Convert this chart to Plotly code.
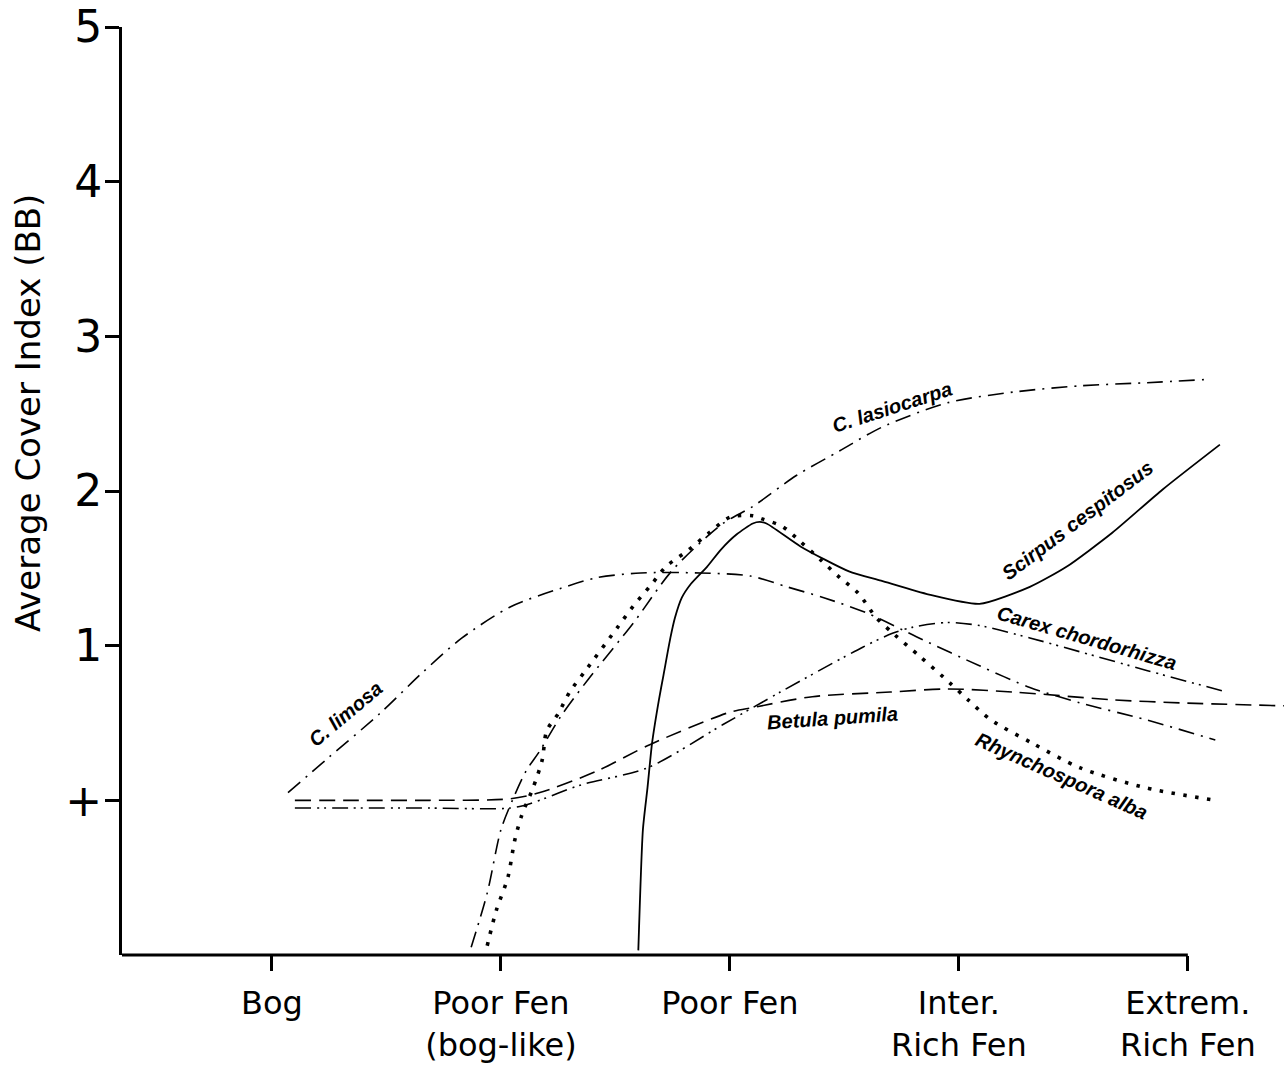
import plotly.graph_objects as go

# Peatland gradient positions (x) and tick labels
stage_pos = [0, 1, 2, 3, 4]
stage_labels = ["Bog", "Poor Fen<br>(bog-like)", "Poor Fen", "Inter.<br>Rich Fen", "Extrem.<br>Rich Fen"]

# Cover index axis: "+" marks presence with negligible cover
cover_ticks = [0, 1, 2, 3, 4, 5]
cover_labels = ["+", "1", "2", "3", "4", "5"]

# Species response curves (stage position, average cover index)
limosa_x = [0.07, 0.25, 0.47, 0.66, 0.83, 1.04, 1.26, 1.42, 1.61, 1.87, 2.09, 2.25, 2.41, 2.60, 2.84, 3.09, 3.31, 3.53, 3.82, 4.12]
limosa_y = [0.05, 0.28, 0.56, 0.83, 1.05, 1.25, 1.37, 1.44, 1.47, 1.47, 1.45, 1.38, 1.31, 1.21, 1.04, 0.87, 0.73, 0.63, 0.52, 0.39]

lasiocarpa_x = [0.87, 0.94, 1.00, 1.05, 1.11, 1.17, 1.26, 1.38, 1.58, 1.75, 1.97, 2.10, 2.29, 2.48, 2.66, 2.95, 3.24, 3.53, 3.82, 4.07]
lasiocarpa_y = [-0.95, -0.60, -0.19, 0.00, 0.19, 0.32, 0.54, 0.78, 1.15, 1.49, 1.79, 1.90, 2.10, 2.26, 2.41, 2.57, 2.64, 2.68, 2.70, 2.72]

rhynchospora_x = [0.94, 0.98, 1.03, 1.06, 1.09, 1.14, 1.18, 1.20, 1.25, 1.30, 1.37, 1.51, 1.58, 1.66, 1.72, 1.82, 1.91, 2.00, 2.10, 2.14,
                  2.23, 2.31, 2.40, 2.48, 2.56, 2.64, 2.72, 2.83, 2.96, 3.04, 3.14, 3.32, 3.53, 3.82, 4.12]
rhynchospora_y = [-0.94, -0.71, -0.50, -0.26, -0.10, 0.08, 0.26, 0.45, 0.56, 0.70, 0.84, 1.12, 1.26, 1.40, 1.51, 1.62, 1.73, 1.83, 1.84, 1.82,
                  1.77, 1.67, 1.55, 1.44, 1.34, 1.18, 1.07, 0.93, 0.76, 0.65, 0.52, 0.37, 0.21, 0.08, 0.00]

scirpus_x = [1.60, 1.62, 1.64, 1.66, 1.69, 1.71, 1.74, 1.76, 1.79, 1.83, 1.90, 1.96, 2.03, 2.10, 2.13, 2.16, 2.31, 2.52, 2.66, 2.87, 3.09,
             3.31, 3.47, 3.67, 3.89, 4.14]
scirpus_y = [-0.97, -0.19, 0.08, 0.37, 0.65, 0.81, 1.05, 1.18, 1.31, 1.40, 1.51, 1.62, 1.72, 1.79, 1.80, 1.79, 1.64, 1.48, 1.42, 1.33, 1.27,
             1.38, 1.51, 1.73, 2.01, 2.30]

chordorhizza_x = [0.10, 0.34, 0.69, 1.04, 1.13, 1.35, 1.64, 1.97, 2.22, 2.58, 2.71, 2.80, 2.95, 3.09, 3.31, 3.53, 3.82, 4.17]
chordorhizza_y = [-0.05, -0.05, -0.05, -0.05, -0.02, 0.10, 0.21, 0.49, 0.70, 0.99, 1.08, 1.12, 1.15, 1.13, 1.05, 0.96, 0.84, 0.70]

betula_x = [0.10, 0.34, 0.69, 1.04, 1.17, 1.42, 1.65, 2.00, 2.10, 2.36, 2.70, 2.95, 3.24, 3.67, 3.97, 4.45]
betula_y = [0.00, 0.00, 0.00, 0.01, 0.05, 0.19, 0.36, 0.57, 0.60, 0.67, 0.70, 0.72, 0.70, 0.65, 0.63, 0.61]

# Curve labels: text, position, rotation
label_text = ["C. limosa", "C. lasiocarpa", "Scirpus cespitosus", "Carex chordorhizza", "Betula pumila", "Rhynchospora alba"]
label_x = [0.32, 2.71, 3.52, 3.56, 2.45, 3.45]
label_y = [0.56, 2.54, 1.81, 1.05, 0.53, 0.16]
label_angle = [-40, -18, -37, 16, -4, 24]

X_MIN, X_MAX = -0.655, 4.42
Y_MIN, Y_MAX = -1, 5

fig = go.Figure()

def add_curve(xs, ys, dash, width=1.6, smoothing=0.8):
    fig.add_trace(go.Scatter(
        x=xs, y=ys, mode="lines",
        line=dict(color="black", width=width, dash=dash, shape="spline", smoothing=smoothing),
        showlegend=False, hoverinfo="skip",
    ))

add_curve(limosa_x, limosa_y, "16px,7px,2px,7px")
add_curve(lasiocarpa_x, lasiocarpa_y, "16px,7px,2px,7px")
add_curve(rhynchospora_x, rhynchospora_y, "3.5px,8.5px", width=3.6)
add_curve(scirpus_x, scirpus_y, "solid", width=1.8, smoothing=0.6)
add_curve(chordorhizza_x, chordorhizza_y, "16px,6px,2px,5px,2px,6px")
add_curve(betula_x, betula_y, "16px,8px")

for t, x, y, a in zip(label_text, label_x, label_y, label_angle):
    fig.add_annotation(
        x=x, y=y, text=t, textangle=a, showarrow=False,
        font=dict(family="Liberation Sans", size=20, color="black", weight="bold", style="italic"),
    )

# Y axis title
fig.add_annotation(
    xref="paper", yref="paper", x=0, y=0.584, xshift=-94, xanchor="center", yanchor="middle",
    text="Average Cover Index (BB)", textangle=-90, showarrow=False,
    font=dict(family="DejaVu Sans", size=34, color="black"),
)

# X axis baseline stops at the last gradient stage
fig.add_shape(
    type="line", xref="paper", yref="paper",
    x0=0, x1=(4 - X_MIN) / (X_MAX - X_MIN), y0=0, y1=0,
    line=dict(color="black", width=3),
)

fig.update_layout(
    width=1284, height=1070,
    margin=dict(l=122, r=0, t=27, b=115),
    paper_bgcolor="white", plot_bgcolor="white",
    xaxis=dict(
        range=[X_MIN, X_MAX], tickvals=stage_pos, ticktext=stage_labels,
        showgrid=False, zeroline=False, showline=False,
        ticks="outside", ticklen=15, tickwidth=2.5, tickcolor="black",
        tickfont=dict(family="DejaVu Sans", size=32, color="black"),
        ticklabelstandoff=5,
    ),
    yaxis=dict(
        range=[Y_MIN, Y_MAX], tickvals=cover_ticks, ticktext=cover_labels,
        showgrid=False, zeroline=False, showline=True, linewidth=3, linecolor="black",
        ticks="outside", ticklen=14, tickwidth=2.5, tickcolor="black",
        tickfont=dict(family="DejaVu Sans", size=44, color="black"),
        ticklabelstandoff=-6,
    ),
)

fig.write_html("out.html")
